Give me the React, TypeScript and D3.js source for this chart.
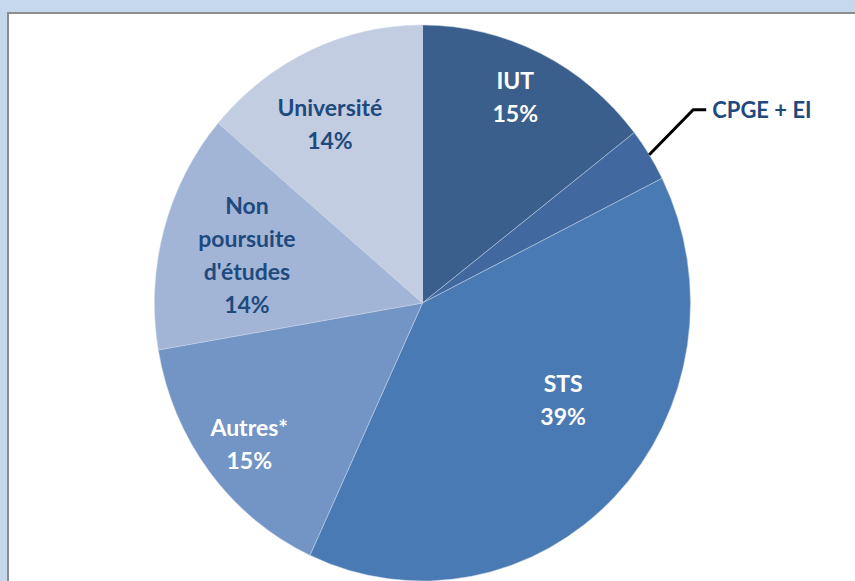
import React from "react";
import * as d3 from "d3";

const categories = ["IUT", "CPGE + EI", "STS", "Autres*", "Non poursuite d'études", "Université"];
const values = [14.5, 3.1, 39.3, 15.4, 13.9, 13.8];
const percentLabels = ["15%", "", "39%", "15%", "14%", "14%"];
const labelLines = [["IUT"], [], ["STS"], ["Autres*"], ["Non", "poursuite", "d'études"], ["Université"]];
const colors = ["#3a5f8d", "#41699f", "#4a7ab4", "#7295c5", "#a2b5d6", "#c2cde2"];
const textColors = ["#ffffff", "#1f4a7d", "#ffffff", "#ffffff", "#1f4a7d", "#1f4a7d"];
// label placement: fraction of radius, angle offset (deg)
const labelRadius = [0.816, 0, 0.63, 0.822, 0.677, 0.73];
const labelAngleOffset = [-1, 0, -10.5, -0.7, -0.7, -3.4];

const W = 855;
const H = 581;
const CX = 422.5;
const CY = 303;
const R = 268;
const SY = 278 / 268;
const LINE_H = 33;
const FONT = "Lato, 'Open Sans', sans-serif";

export default function App() {
  const pie = d3.pie<number>().sort(null).value((d) => d);
  const arcs = pie(values);
  const arcGen = d3.arc<d3.PieArcDatum<number>>().innerRadius(0).outerRadius(R);

  const polar = (ang: number, r: number) => [CX + r * Math.sin(ang), CY - r * Math.cos(ang) * SY];

  const cp = arcs[1];
  const cpMid = (cp.startAngle + cp.endAngle) / 2;
  const [lx0, ly0] = polar(cpMid, R);
  const elbow = [lx0 + 44, ly0 - 45];
  const lineEnd = [elbow[0] + 13, elbow[1]];

  return (
    <svg width={W} height={H} style={{ position: "absolute", left: 0, top: 0 }}>
      <rect x={0} y={0} width={W} height={H} fill="#c6d9ec" />
      <rect x={8} y={13} width={W + 20} height={H + 20} fill="#ffffff" stroke="#8c8c8c" strokeWidth={2} />
      <g transform={`translate(${CX},${CY}) scale(1,${SY})`}>
        {arcs.map((a, i) => (
          <path key={i} d={arcGen(a) || ""} fill={colors[i]} stroke="#c9d6e8" strokeOpacity={0.6} strokeWidth={0.8} />
        ))}
      </g>
      {arcs.map((a, i) => {
        if (i === 1) return null;
        const mid = (a.startAngle + a.endAngle) / 2 + (labelAngleOffset[i] * Math.PI) / 180;
        const [x, y] = polar(mid, R * labelRadius[i]);
        const lines = [...labelLines[i], percentLabels[i]];
        const top = y - ((lines.length - 1) * LINE_H) / 2;
        return (
          <text
            key={i}
            x={x}
            textAnchor="middle"
            fontFamily={FONT}
            fontWeight="bold"
            fontSize={23}
            fill={textColors[i]}
          >
            {lines.map((l, j) => (
              <tspan key={j} x={x} y={top + j * LINE_H} dy="0.36em">
                {l}
              </tspan>
            ))}
          </text>
        );
      })}
      <polyline
        points={`${lx0},${ly0} ${elbow[0]},${elbow[1]} ${lineEnd[0]},${lineEnd[1]}`}
        fill="none"
        stroke="#000"
        strokeWidth={3}
      />
      <text
        x={lineEnd[0] + 6}
        y={lineEnd[1]}
        dy="0.36em"
        fontFamily={FONT}
        fontWeight="bold"
        fontSize={22}
        fill={textColors[1]}
      >
        {categories[1]}
      </text>
    </svg>
  );
}
